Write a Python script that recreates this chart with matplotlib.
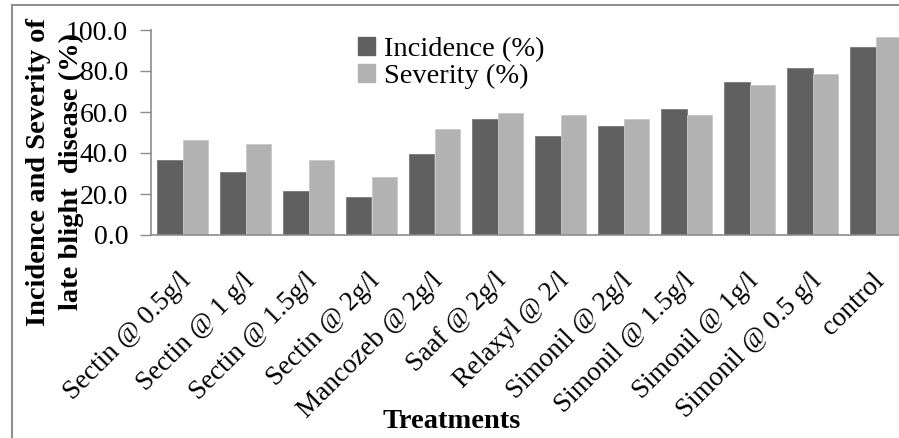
import numpy as np
import matplotlib
matplotlib.use("Agg")
import matplotlib.pyplot as plt
from matplotlib.lines import Line2D
from matplotlib.patches import Patch
from matplotlib.transforms import ScaledTranslation

treatments = ["Sectin @ 0.5g/l", "Sectin @ 1 g/l", "Sectin @ 1.5g/l", "Sectin @ 2g/l",
              "Mancozeb @ 2g/l", "Saaf @ 2g/l", "Relaxyl @ 2/l", "Simonil @ 2g/l",
              "Simonil @ 1.5g/l", "Simonil @ 1g/l", "Simonil @ 0.5 g/l", "control"]
incidence = [36.4, 30.9, 21.5, 18.4, 39.7, 56.6, 48.4, 53.3, 61.5, 74.6, 81.6, 91.6]
severity = [46.5, 44.5, 36.4, 28.3, 51.6, 59.5, 58.4, 56.6, 58.4, 73.3, 78.4, 96.4]
yticks = [0, 20, 40, 60, 80, 100]

SERIF = "Liberation Serif"
DARK = "#606060"
LIGHT = "#b2b2b2"
AXC = "#8c8c8c"

fig = plt.figure(figsize=(8.99, 4.38), dpi=100)
ax = fig.add_axes([151 / 899, 1 - 235 / 438, 756 / 899, 205 / 438])

x = np.arange(len(treatments))
w = 0.4
ax.bar(x - w / 2, incidence, w, color=DARK, edgecolor="#7a7a7a", linewidth=0.6,
       label="Incidence (%)")
ax.bar(x + w / 2, severity, w, color=LIGHT, edgecolor="#c8c8c8", linewidth=0.6,
       label="Severity (%)")

ax.set_xlim(-0.5, len(treatments) - 0.5)
ax.set_ylim(0, 100)
ax.set_yticks(yticks)
ax.set_yticklabels([f"{v:.1f}" for v in yticks], fontsize=20, family=SERIF)
ax.tick_params(axis="y", length=8, width=1, color=AXC, pad=8.5)

ax.set_xticks(x)
ax.set_xticklabels(treatments, rotation=45, ha="right", rotation_mode="anchor",
                   fontsize=19.5, family=SERIF)
ax.tick_params(axis="x", length=0, pad=24)
shift = ScaledTranslation(-4 / 100, 0, fig.dpi_scale_trans)
for lab in ax.get_xticklabels():
    lab.set_transform(lab.get_transform() + shift)

for s in ["top", "right"]:
    ax.spines[s].set_visible(False)
for s in ["left", "bottom"]:
    ax.spines[s].set_color(AXC)
    ax.spines[s].set_linewidth(1.2)

handles = [Patch(color=DARK, label="Incidence (%)"), Patch(color=LIGHT, label="Severity (%)")]
fig.legend(handles=handles, loc="upper left", bbox_to_anchor=(358 / 899, 1 - 37 / 438),
           frameon=False, prop={"family": SERIF, "size": 20.5}, handlelength=0.6,
           handleheight=0.6, handletextpad=0.3, labelspacing=0.05, borderpad=0,
           borderaxespad=0)

fig.text(55 / 899, 1 - 172 / 438, "Incidence and Severity of\nlate blight  disease (%)",
         rotation=90, ha="center", va="center", multialignment="center",
         fontsize=20.5, fontweight="bold", family=SERIF, linespacing=1.4)
fig.text(452 / 899, 1 - 421 / 438, "Treatments", ha="center", va="center",
         fontsize=20.5, fontweight="bold", family=SERIF)

# frame of the cropped screenshot
fig.add_artist(Line2D([12 / 899, 1], [1 - 5 / 438, 1 - 5 / 438], color="#909090", lw=1.5))
fig.add_artist(Line2D([12 / 899, 12 / 899], [0, 1 - 5 / 438], color="#909090", lw=1.5))

fig.savefig("out.png", dpi=100)
